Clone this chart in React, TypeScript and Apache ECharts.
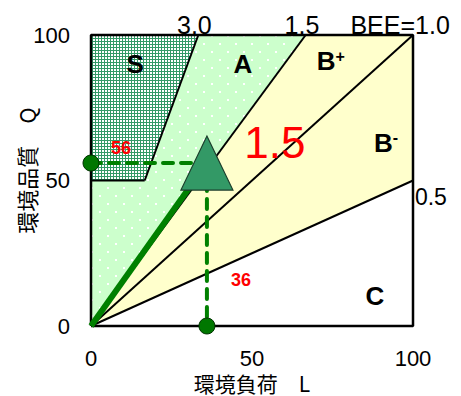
import React, { useEffect, useRef } from 'react';
import * as echarts from 'echarts';

// ---- data ----
const axisTicks = [0, 50, 100];
const regionS: number[][] = [[0, 50], [16.67, 50], [33.33, 100], [0, 100]];
const regionA: number[][] = [[0, 0], [0, 50], [16.67, 50], [33.33, 100], [66.67, 100]];
const regionB: number[][] = [[0, 0], [66.67, 100], [100, 100], [100, 50]];
const lineBee30: number[][] = [[16.67, 50], [33.33, 100]];
const lineSBase: number[][] = [[0, 50], [16.67, 50]];
const lineBee15: number[][] = [[0, 0], [66.67, 100]];
const lineBee10: number[][] = [[0, 0], [100, 100]];
const lineBee05: number[][] = [[0, 0], [100, 50]];
const frame: number[][] = [[0, 0], [100, 0], [100, 100], [0, 100], [0, 0]];
const loadL = 36;
const qualityQ = 56;
const beeValue = '1.5';
const rankLabels = [
  { text: 'S', x: 13.7, y: 90 },
  { text: 'A', x: 47.2, y: 90 },
  { text: 'B{sup|+}', x: 74.5, y: 91 },
  { text: 'B{sup|-}', x: 91.6, y: 62.9 },
  { text: 'C', x: 88.2, y: 10.3 },
];
const beeLineLabels = [
  { text: '3.0', x: 32.1, y: 103.3 },
  { text: '1.5', x: 65.5, y: 103.3 },
  { text: 'BEE=1.0', x: 96, y: 103.3 },
];
const halfLabel = { text: '0.5', x: 100.6, y: 44.3 };

const FONT = '"Liberation Sans", Arial, sans-serif';
const CJK = '"Noto Sans CJK JP", "Liberation Sans", sans-serif';

function makePattern(w: number, h: number, bg: string, dots: number[][]) {
  const c = document.createElement('canvas');
  c.width = w;
  c.height = h;
  const ctx = c.getContext('2d')!;
  ctx.fillStyle = bg;
  ctx.fillRect(0, 0, w, h);
  ctx.fillStyle = '#ffffff';
  dots.forEach(([x, y, dw, dh]) => ctx.fillRect(x, y, dw, dh));
  return { image: c.toDataURL(), imageWidth: w, imageHeight: h, repeat: 'repeat' };
}

export default function App() {
  const ref = useRef<HTMLDivElement>(null);
  useEffect(() => {
    if (!ref.current) return;
    const chart = echarts.init(ref.current, undefined, { renderer: 'svg' });

    const patS = makePattern(6, 6, '#339966', [
      [0, 0, 2, 2], [3, 0, 2, 2], [0, 3, 2, 2], [3, 3, 2, 2],
    ]);
    const patA = makePattern(16, 16, '#ccffcc', [[3, 3, 2, 2], [11, 11, 2, 2]]);
    const regions = [
      { pts: regionA, fill: patA },
      { pts: regionB, fill: '#ffffcc' },
      { pts: regionS, fill: patS },
    ];

    const blackLine = (d: number[][], w = 2) => ({
      type: 'line',
      data: d,
      symbol: 'none',
      clip: false,
      z: 3,
      lineStyle: { color: '#000', width: w },
      silent: true,
    });

    const labelSeries = (items: any[], style: any, z = 10) => ({
      type: 'scatter',
      symbolSize: 0,
      clip: false,
      z,
      silent: true,
      itemStyle: { opacity: 1 },
      data: items.map((it) => ({ value: [it.x, it.y], name: it.text })),
      label: {
        show: true,
        position: 'inside',
        formatter: (p: any) => p.name,
        ...style,
      },
    });

    chart.setOption({
      animation: false,
      grid: { left: 91, right: 48, top: 35, bottom: 70, outerBoundsMode: 'none' },
      xAxis: {
        type: 'value',
        min: axisTicks[0],
        max: axisTicks[2],
        interval: axisTicks[1],
        splitLine: { show: false },
        axisLine: { show: false },
        axisTick: { show: false },
        axisLabel: { fontSize: 22, lineHeight: 16, color: '#000', fontFamily: FONT, margin: 24 },
        name: '環境負荷　L',
        nameLocation: 'middle',
        nameGap: 46,
        nameMoveOverlap: false,
        nameTextStyle: { fontSize: 21, lineHeight: 21, color: '#000', fontFamily: CJK },
      },
      yAxis: {
        type: 'value',
        min: axisTicks[0],
        max: axisTicks[2],
        interval: axisTicks[1],
        splitLine: { show: false },
        axisLine: { show: false },
        axisTick: { show: false },
        axisLabel: { fontSize: 22, color: '#000', fontFamily: FONT, margin: 21 },
        name: '環境品質　Q',
        nameLocation: 'middle',
        nameGap: 54,
        nameMoveOverlap: false,
        nameTextStyle: { fontSize: 22, color: '#000', fontFamily: CJK, padding: [0, 0, 0, 20] },
      },
      series: [
        {
          type: 'custom',
          z: 1,
          silent: true,
          data: regions.map((_, i) => [i]),
          renderItem: (params: any, api: any) => {
            const r = regions[params.dataIndex];
            return {
              type: 'polygon',
              shape: { points: r.pts.map((p) => api.coord(p)) },
              style: { fill: r.fill, stroke: 'none' },
            };
          },
        },
        blackLine(lineBee30),
        blackLine(lineSBase),
        blackLine(lineBee15),
        blackLine(lineBee10),
        blackLine(lineBee05),
        { ...blackLine(frame, 2.5), z: 4 },
        {
          type: 'line',
          data: [[0, 0], [loadL, qualityQ]],
          symbol: 'none',
          clip: false,
          z: 5,
          lineStyle: { color: '#008000', width: 6 },
          silent: true,
        },
        {
          type: 'line',
          data: [[0, qualityQ], [loadL, qualityQ]],
          symbol: 'none',
          clip: false,
          z: 5,
          lineStyle: { color: '#008000', width: 4, type: [10, 8], cap: 'round' },
          silent: true,
        },
        {
          type: 'line',
          data: [[loadL, qualityQ], [loadL, 0]],
          symbol: 'none',
          clip: false,
          z: 5,
          lineStyle: { color: '#008000', width: 4, type: [10, 8], cap: 'round' },
          silent: true,
        },
        {
          type: 'scatter',
          data: [[0, qualityQ], [loadL, 0]],
          symbol: 'circle',
          symbolSize: 16,
          clip: false,
          z: 6,
          itemStyle: { color: '#007700', borderColor: '#003300', borderWidth: 1, opacity: 1 },
          silent: true,
        },
        {
          type: 'scatter',
          data: [[loadL, qualityQ]],
          symbol: 'triangle',
          symbolSize: [52, 54],
          clip: false,
          z: 7,
          itemStyle: { color: '#339966', borderColor: '#1b3d2b', borderWidth: 1.2, opacity: 1 },
          silent: true,
        },
        labelSeries(rankLabels, {
          fontSize: 26,
          fontWeight: 'bold',
          color: '#000',
          fontFamily: FONT,
          rich: {
            sup: { fontSize: 16, fontWeight: 'bold', color: '#000', fontFamily: FONT, verticalAlign: 'top' },
          },
        }),
        labelSeries([{ text: beeValue, x: 57.1, y: 62.9 }], {
          fontSize: 44,
          color: '#ff0000',
          fontFamily: FONT,
        }),
        labelSeries(
          [
            { text: String(qualityQ), x: 9.3, y: 61.2 },
            { text: String(loadL), x: 46.6, y: 15.8 },
          ],
          { fontSize: 18, fontWeight: 'bold', color: '#ff0000', fontFamily: FONT }
        ),
        labelSeries(beeLineLabels, { fontSize: 25, color: '#000', fontFamily: FONT }),
        labelSeries([halfLabel], { fontSize: 23, color: '#000', fontFamily: FONT, align: 'left' }),
      ],
    });
    return () => chart.dispose();
  }, []);
  return (
    <div
      ref={ref}
      style={{ position: 'fixed', left: 0, top: 0, width: 461, height: 396, background: '#fff' }}
    />
  );
}
